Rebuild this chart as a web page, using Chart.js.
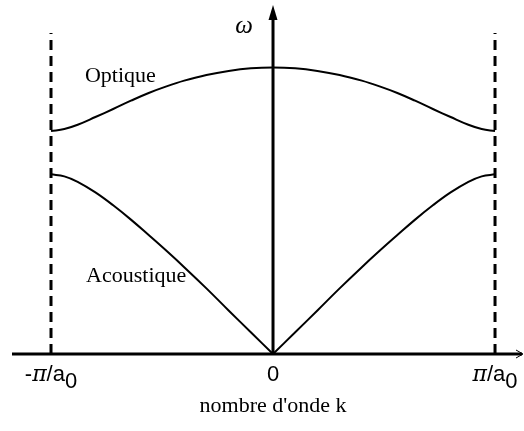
<!DOCTYPE html>
<html>
<head>
<meta charset="utf-8">
<title>Relation de dispersion</title>
<script src="https://cdn.jsdelivr.net/npm/chart.js@4.4.1/dist/chart.umd.min.js"></script>
<style>
  html, body { margin: 0; padding: 0; background: #fff; }
  canvas { display: block; }
</style>
</head>
<body>
<canvas id="dispersion-chart" width="524" height="431"></canvas>
<script>
//Wave number k, in units of pi/a0
const kValues = [-1, -0.94, -0.88, -0.8, -0.72, -0.64, -0.56, -0.48, -0.4, -0.3, -0.2, -0.1, 0,
  0.1, 0.2, 0.3, 0.4, 0.48, 0.56, 0.64, 0.72, 0.8, 0.88, 0.94, 1];

//Frequency omega, normalised to the top of the optical branch
const opticalOmega = [0.778, 0.785, 0.800, 0.827, 0.855, 0.884, 0.911, 0.934, 0.954, 0.974, 0.988, 0.997, 1.0,
  0.997, 0.988, 0.974, 0.954, 0.934, 0.911, 0.884, 0.855, 0.827, 0.800, 0.785, 0.778];
const acousticOmega = [0.627, 0.620, 0.601, 0.564, 0.519, 0.469, 0.415, 0.360, 0.303, 0.229, 0.152, 0.076, 0,
  0.076, 0.152, 0.229, 0.303, 0.360, 0.415, 0.469, 0.519, 0.564, 0.601, 0.620, 0.627];

//Brillouin zone edges and axis labels
const zoneEdges = [-1, 1];
const zoneTop = 1.12;
const tickLabels = [
  { k: -1, parts: ['-', 'π', '/a', '0'] },
  { k: 0, parts: ['', '', '0', ''] },
  { k: 1, parts: ['', 'π', '/a', '0'] }
];
const axisTitle = "nombre d'onde k";
const omegaLabel = 'ω';
const branchLabels = [
  { text: 'Optique', k: -0.847, omega: 0.949 },
  { text: 'Acoustique', k: -0.842, omega: 0.251 }
];

const canvas = document.getElementById('dispersion-chart');

function toPoints(ks, ws) {
  return ks.map((k, i) => ({ x: k, y: ws[i] }));
}

const curveStyle = {
  borderColor: '#000',
  borderWidth: 2,
  pointRadius: 0,
  fill: false,
  tension: 0.4
};

const edgeStyle = {
  borderColor: '#000',
  borderWidth: 3,
  borderDash: [10, 6],
  pointRadius: 0,
  fill: false
};

const datasets = [
  Object.assign({ label: 'Optique', data: toPoints(kValues, opticalOmega) }, curveStyle),
  Object.assign({ label: 'Acoustique', data: toPoints(kValues.slice(0, 13), acousticOmega.slice(0, 13)) }, curveStyle),
  Object.assign({ label: 'Acoustique 2', data: toPoints(kValues.slice(12), acousticOmega.slice(12)) }, curveStyle)
];
zoneEdges.forEach(k => {
  datasets.push(Object.assign({ label: 'bord', data: [{ x: k, y: 0 }, { x: k, y: zoneTop }] }, edgeStyle));
});

//Axes with arrows, tick labels and text drawn on top of the curves
const axesPlugin = {
  id: 'axesPlugin',
  afterDatasetsDraw(chart) {
    const ctx = chart.ctx;
    const xs = chart.scales.x;
    const ys = chart.scales.y;
    const area = chart.chartArea;
    const x0 = xs.getPixelForValue(0);
    const y0 = ys.getPixelForValue(0);

    ctx.save();
    ctx.strokeStyle = '#000';
    ctx.fillStyle = '#000';

    // horizontal axis
    ctx.lineWidth = 3;
    ctx.beginPath();
    ctx.moveTo(area.left, y0);
    ctx.lineTo(area.right - 1, y0);
    ctx.stroke();
    ctx.lineWidth = 1;
    ctx.beginPath();
    ctx.moveTo(area.right - 7, y0 - 4);
    ctx.lineTo(area.right, y0);
    ctx.lineTo(area.right - 7, y0 + 4);
    ctx.stroke();

    // vertical axis
    ctx.lineWidth = 3;
    ctx.beginPath();
    ctx.moveTo(x0, y0);
    ctx.lineTo(x0, area.top + 12);
    ctx.stroke();
    ctx.beginPath();
    ctx.moveTo(x0, area.top);
    ctx.lineTo(x0 - 4.5, area.top + 15);
    ctx.lineTo(x0 + 4.5, area.top + 15);
    ctx.closePath();
    ctx.fill();

    // tick labels: -pi/a0, 0, pi/a0
    const sans = '22px "Liberation Sans", Arial, sans-serif';
    const serif = 'italic 22px "DejaVu Serif", "Liberation Serif", serif';
    tickLabels.forEach(t => {
      const fonts = [sans, serif, sans, sans];
      let width = 0;
      t.parts.forEach((p, i) => {
        ctx.font = fonts[i];
        width += ctx.measureText(p).width;
      });
      let x = xs.getPixelForValue(t.k) - width / 2;
      ctx.textAlign = 'left';
      ctx.textBaseline = 'alphabetic';
      t.parts.forEach((p, i) => {
        ctx.font = fonts[i];
        ctx.fillText(p, x, i === 3 ? y0 + 34 : y0 + 27);
        x += ctx.measureText(p).width;
      });
    });

    // axis title
    ctx.font = '22px "Liberation Serif", "Times New Roman", serif';
    ctx.textAlign = 'center';
    ctx.fillText(axisTitle, x0, y0 + 58);

    // omega label
    ctx.font = 'italic 25px "Liberation Serif", "Times New Roman", serif';
    ctx.textAlign = 'right';
    ctx.fillText(omegaLabel, x0 - 20, area.top + 28);

    // branch names
    ctx.font = '22px "Liberation Serif", "Times New Roman", serif';
    ctx.textAlign = 'left';
    branchLabels.forEach(b => {
      ctx.fillText(b.text, xs.getPixelForValue(b.k), ys.getPixelForValue(b.omega));
    });

    ctx.restore();
  }
};

const dispersionChart = new Chart(canvas, {
  type: 'line',
  data: { datasets: datasets },
  options: {
    responsive: false,
    animation: false,
    devicePixelRatio: 1,
    layout: {
      padding: { left: 12, right: 1, top: 5, bottom: 77 }
    },
    scales: {
      x: { type: 'linear', min: -1.1757, max: 1.126, display: false },
      y: { type: 'linear', min: 0, max: 1.218, display: false }
    },
    plugins: {
      legend: { display: false },
      tooltip: { enabled: false }
    }
  },
  plugins: [axesPlugin]
});
</script>
</body>
</html>
